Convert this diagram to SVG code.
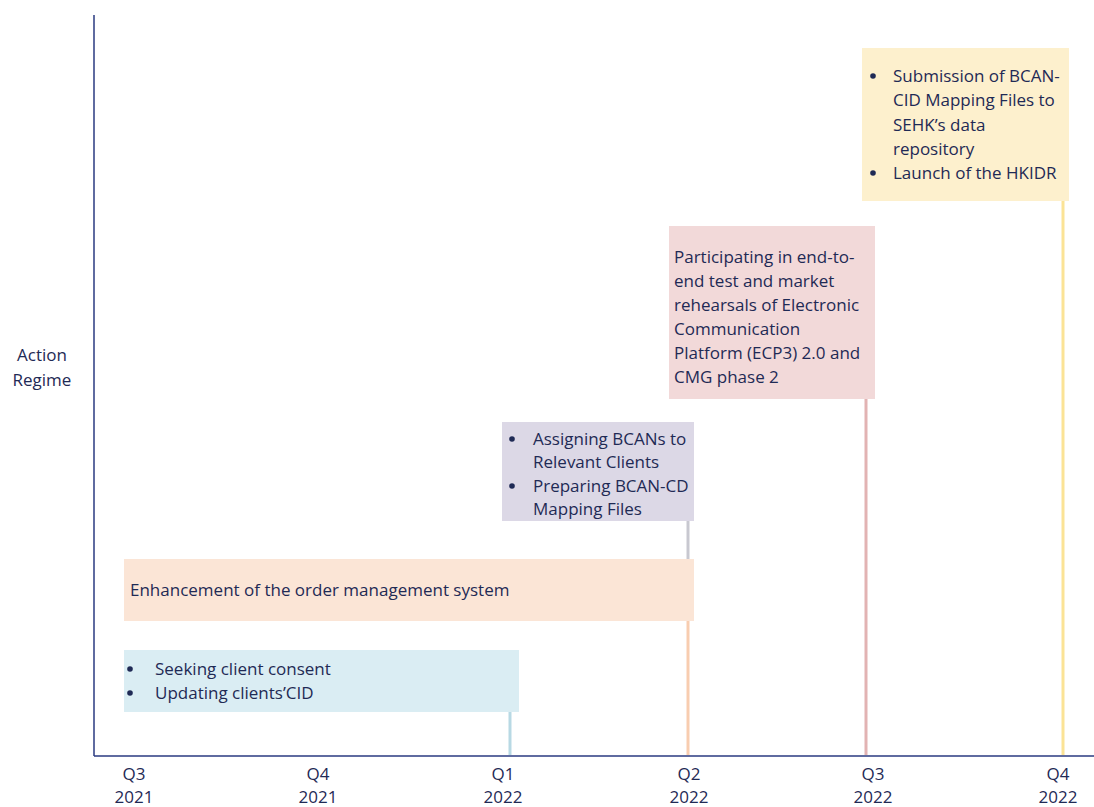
<svg xmlns="http://www.w3.org/2000/svg" width="1094" height="807" viewBox="0 0 1094 807">
<style>
text{font-family:"Open Sans","Liberation Sans",sans-serif;font-size:17px;fill:#1f2a55}
.ax{text-anchor:middle}
.conn line{stroke-width:3}
</style>
<rect width="1094" height="807" fill="#fff"/>
<g id="axes" stroke="#2a3a80" stroke-width="1.5">
<line x1="94" y1="15" x2="94" y2="756"/>
<line x1="94" y1="756" x2="1094" y2="756"/>
</g>
<g id="connectors" class="conn">
<line x1="1063" y1="200" x2="1063" y2="755" stroke="#fbe396"/>
<line x1="866" y1="398" x2="866" y2="755" stroke="#e2b3b3"/>
<line x1="688" y1="520" x2="688" y2="560" stroke="#c8c8d0"/>
<line x1="688" y1="620" x2="688" y2="755" stroke="#f8cdb0"/>
<line x1="510" y1="711" x2="510" y2="755" stroke="#b8d9e4"/>
</g>
<g id="yaxis-label">
<text class="ax" x="42" y="361">Action</text>
<text class="ax" x="42" y="386">Regime</text>
</g>
<g id="node-q4-2022">
<rect x="862" y="48" width="207" height="153" fill="#fdf0cd"/>
<circle cx="873" cy="76" r="2.8" fill="#1f2a55"/>
<text x="893" y="82">Submission of BCAN-</text>
<text x="893" y="106">CID Mapping Files to</text>
<text x="893" y="131">SEHK’s data</text>
<text x="893" y="155">repository</text>
<circle cx="873" cy="173" r="2.8" fill="#1f2a55"/>
<text x="893" y="179">Launch of the HKIDR</text>
</g>
<g id="node-q3-2022">
<rect x="669" y="226" width="206" height="173" fill="#f2d9d9"/>
<text x="674" y="263">Participating in end-to-</text>
<text x="674" y="287">end test and market</text>
<text x="674" y="311">rehearsals of Electronic</text>
<text x="674" y="335">Communication</text>
<text x="674" y="359">Platform (ECP3) 2.0 and</text>
<text x="674" y="383">CMG phase 2</text>
</g>
<g id="node-q2-2022">
<rect x="502" y="422" width="192" height="99" fill="#dcd8e6"/>
<circle cx="512" cy="439" r="2.8" fill="#1f2a55"/>
<text x="533" y="445">Assigning BCANs to</text>
<text x="533" y="468">Relevant Clients</text>
<circle cx="512" cy="486" r="2.8" fill="#1f2a55"/>
<text x="533" y="492">Preparing BCAN-CD</text>
<text x="533" y="515">Mapping Files</text>
</g>
<g id="node-oms">
<rect x="124" y="559" width="570" height="62" fill="#fbe5d6"/>
<text x="130" y="596">Enhancement of the order management system</text>
</g>
<g id="node-consent">
<rect x="124" y="650" width="395" height="62" fill="#daedf3"/>
<circle cx="130" cy="669" r="2.8" fill="#1f2a55"/>
<text x="155" y="675">Seeking client consent</text>
<circle cx="130" cy="693" r="2.8" fill="#1f2a55"/>
<text x="155" y="699">Updating clients’CID</text>
</g>
<g id="xaxis-labels">
<text class="ax" x="134" y="780">Q3</text><text class="ax" x="134" y="803">2021</text>
<text class="ax" x="318" y="780">Q4</text><text class="ax" x="318" y="803">2021</text>
<text class="ax" x="503" y="780">Q1</text><text class="ax" x="503" y="803">2022</text>
<text class="ax" x="689" y="780">Q2</text><text class="ax" x="689" y="803">2022</text>
<text class="ax" x="873" y="780">Q3</text><text class="ax" x="873" y="803">2022</text>
<text class="ax" x="1058" y="780">Q4</text><text class="ax" x="1058" y="803">2022</text>
</g>
</svg>
